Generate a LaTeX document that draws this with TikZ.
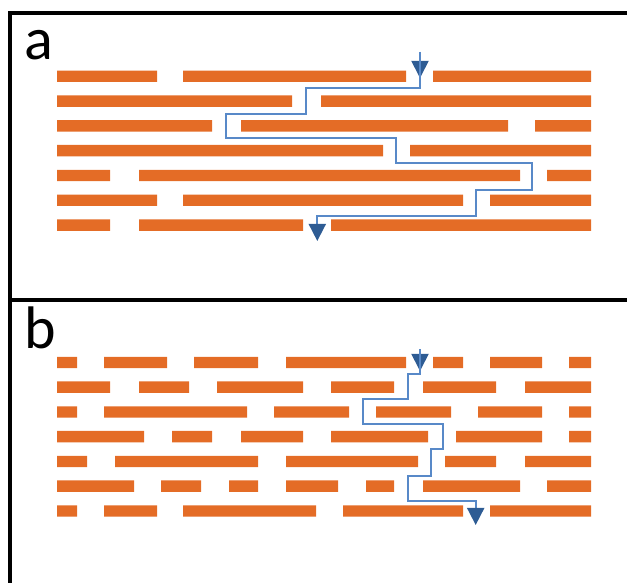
\documentclass[tikz,border=0pt]{standalone}
\usepackage{fontspec}
\setmainfont{Carlito}
\usetikzlibrary{arrows.meta}
\definecolor{plateorange}{RGB}{228,108,38}
\definecolor{pathblue}{RGB}{88,137,200}
\definecolor{headblue}{RGB}{46,92,148}

\begin{document}
\begin{tikzpicture}[x=0.025cm,y=-0.025cm,
  platelet/.style={fill=plateorange},
  frame/.style={line width=0.1cm},
  panellabel/.style={anchor=base west,inner sep=0pt,font=\fontsize{42.7}{50}\selectfont},
  diffpath/.style={draw=pathblue,line width=0.045cm},
  head/.style={-{Triangle[length=0.43cm,width=0.43cm,color=headblue]}}]
\useasboundingbox (0,0) rectangle (627,583);
% panel frames
\draw[frame] (10,583) -- (10,13) -- (627,13);
\draw[frame] (10,300) -- (627,300);
% panel labels
\node[panellabel] (labela) at (24,60) {a};
\node[panellabel] (labelb) at (24,349) {b};
% panel a: long platelets, few gaps
\fill[platelet] (57,70.6) rectangle (157,82) (183,70.6) rectangle (406,82) (433,70.6) rectangle (591,82);
\fill[platelet] (57,95.4) rectangle (292,106.8) (321,95.4) rectangle (591,106.8);
\fill[platelet] (57,120.2) rectangle (212,131.6) (241,120.2) rectangle (508,131.6) (535,120.2) rectangle (591,131.6);
\fill[platelet] (57,145) rectangle (383,156.4) (410,145) rectangle (591,156.4);
\fill[platelet] (57,169.8) rectangle (110,181.2) (139,169.8) rectangle (520,181.2) (547,169.8) rectangle (591,181.2);
\fill[platelet] (57,194.6) rectangle (157,206) (183,194.6) rectangle (463,206) (490,194.6) rectangle (591,206);
\fill[platelet] (57,219.4) rectangle (110,230.8) (139,219.4) rectangle (303,230.8) (331,219.4) rectangle (591,230.8);
% panel b: short platelets, many gaps
\fill[platelet] (57,356.8) rectangle (77,368.2) (104,356.8) rectangle (167,368.2) (194,356.8) rectangle (258,368.2)
  (286,356.8) rectangle (406,368.2) (433,356.8) rectangle (463,368.2) (490,356.8) rectangle (542,368.2) (569,356.8) rectangle (591,368.2);
\fill[platelet] (57,381.5) rectangle (110,392.9) (139,381.5) rectangle (189,392.9) (217,381.5) rectangle (303,392.9)
  (331,381.5) rectangle (394,392.9) (423,381.5) rectangle (496,392.9) (525,381.5) rectangle (591,392.9);
\fill[platelet] (57,406.3) rectangle (77,417.7) (104,406.3) rectangle (247,417.7) (274,406.3) rectangle (349,417.7)
  (376,406.3) rectangle (451,417.7) (478,406.3) rectangle (542,417.7) (569,406.3) rectangle (591,417.7);
\fill[platelet] (57,431) rectangle (144,442.4) (172,431) rectangle (212,442.4) (241,431) rectangle (303,442.4)
  (331,431) rectangle (428,442.4) (456,431) rectangle (542,442.4) (569,431) rectangle (591,442.4);
\fill[platelet] (57,455.8) rectangle (87,467.2) (115,455.8) rectangle (258,467.2) (286,455.8) rectangle (418,467.2)
  (445,455.8) rectangle (496,467.2) (525,455.8) rectangle (591,467.2);
\fill[platelet] (57,480.5) rectangle (134,491.9) (161,480.5) rectangle (201,491.9) (229,480.5) rectangle (258,491.9)
  (286,480.5) rectangle (338,491.9) (366,480.5) rectangle (394,491.9) (423,480.5) rectangle (520,491.9) (547,480.5) rectangle (591,491.9);
\fill[platelet] (57,505.3) rectangle (77,516.7) (104,505.3) rectangle (157,516.7) (183,505.3) rectangle (316,516.7)
  (343,505.3) rectangle (463,516.7) (490,505.3) rectangle (591,516.7);
% diffusion path ends
\coordinate (ina) at (420,52);
\coordinate (outa) at (317.3,241);
\coordinate (inb) at (420,349.5);
\coordinate (outb) at (475.7,525);
% diffusion path a
\draw[diffpath,head] (ina) -- ++(0,26);
\draw[diffpath,head] (ina) -- (420,88.3) -- (305.7,88.3) -- (305.7,114.3) -- (226,114.3) -- (226,138.3)
  -- (396,138.3) -- (396,163.3) -- (532.3,163.3) -- (532.3,190) -- (475.7,190) -- (475.7,216)
  -- (317.3,216) -- (outa);
% diffusion path b
\draw[diffpath,head] (inb) -- ++(0,21.5);
\draw[diffpath,head] (inb) -- (420,374.3) -- (407.7,374.3) -- (407.7,399) -- (362.7,399) -- (362.7,424.3)
  -- (442.7,424.3) -- (442.7,449.3) -- (430.7,449.3) -- (430.7,476) -- (407.7,476) -- (407.7,501)
  -- (475.7,501) -- (outb);
\end{tikzpicture}
\end{document}
